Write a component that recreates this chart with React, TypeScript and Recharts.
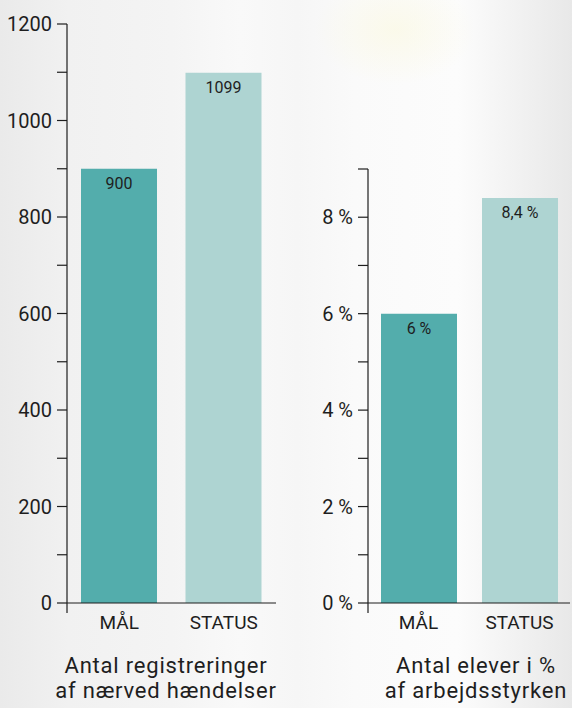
import { Bar, BarChart, Cell, LabelList, XAxis, YAxis, usePlotArea } from 'recharts'

const categories = ['MÅL', 'STATUS']
const registreringer = [900, 1099]
const elevProcent = [6, 8.4]

const leftTicks = [0, 100, 200, 300, 400, 500, 600, 700, 800, 900, 1000, 1100, 1200]
const rightTicks = [0, 1, 2, 3, 4, 5, 6, 7, 8, 9]

const barColors = ['#53adac', '#aed4d2']
const ink = '#1e1e1e'
const font = 'Roboto, "Noto Sans", sans-serif'

const leftData = categories.map((kategori, i) => ({ kategori, value: registreringer[i] }))
const rightData = categories.map((kategori, i) => ({ kategori, value: elevProcent[i] }))

const fmtPct = (v: number) => `${String(v).replace('.', ',')} %`

// small stub of the y axis that hangs below the zero line
function AxisTail() {
  const p = usePlotArea()
  if (!p) return null
  const y = p.y + p.height
  return <line x1={p.x} x2={p.x} y1={y} y2={y + 10} stroke={ink} strokeWidth={1.2} />
}

const titleStyle = {
  position: 'absolute' as const,
  top: 653,
  fontFamily: font,
  fontSize: 22,
  letterSpacing: '0.8px',
  lineHeight: '25px',
  color: ink,
  textAlign: 'center' as const,
}

export default function App() {
  return (
    <div
      style={{
        position: 'absolute',
        left: 0,
        top: 0,
        width: 572,
        height: 708,
        overflow: 'hidden',
        fontFamily: font,
        background:
          'radial-gradient(ellipse 80px 55px at 395px 30px, rgba(250,248,220,0.55), rgba(250,248,220,0) 100%),' +
          'linear-gradient(to right, #eaeaea 0%, #f1f1f1 12%, #f4f4f4 30%, #f9f9f9 42%, #f6f6f6 52%, #fafafa 62%, #fcfcfc 80%, #f0f0f0 92%, #e8e8e8 100%)',
      }}
    >
      <div style={{ position: 'absolute', left: 0, top: 0 }}>
        <BarChart width={290} height={708} data={leftData} margin={{ top: 24, right: 14, bottom: 65, left: 0 }}>
          <XAxis
            dataKey="kategori"
            height={40}
            tickLine={false}
            tickSize={0}
            tickMargin={13}
            axisLine={{ stroke: ink, strokeWidth: 1.2 }}
            tick={{ fontSize: 19, fill: ink, fontFamily: font }}
          />
          <YAxis
            width={67}
            domain={[0, 1200]}
            ticks={leftTicks}
            interval={0}
            tickSize={10}
            tickMargin={5}
            tickLine={{ stroke: ink, strokeWidth: 1.2 }}
            axisLine={{ stroke: ink, strokeWidth: 1.2 }}
            tick={{ fontSize: 20, fill: ink, fontFamily: font }}
            tickFormatter={(v) => (v % 200 === 0 ? String(v) : '')}
          />
          <Bar dataKey="value" barSize={76} isAnimationActive={false}>
            {leftData.map((d, i) => (
              <Cell key={d.kategori} fill={barColors[i]} />
            ))}
            <LabelList
              dataKey="value"
              position="insideTop"
              offset={9}
              style={{ fontSize: 16, fill: ink, fontFamily: font }}
            />
          </Bar>
          <AxisTail />
        </BarChart>
      </div>

      <div style={{ position: 'absolute', left: 290, top: 0 }}>
        <BarChart width={282} height={708} data={rightData} margin={{ top: 169, right: 2, bottom: 65, left: 0 }}>
          <XAxis
            dataKey="kategori"
            height={40}
            tickLine={false}
            tickSize={0}
            tickMargin={13}
            axisLine={{ stroke: ink, strokeWidth: 1.2 }}
            tick={{ fontSize: 19, fill: ink, fontFamily: font }}
          />
          <YAxis
            width={78}
            domain={[0, 9]}
            ticks={rightTicks}
            interval={0}
            tickSize={10}
            tickMargin={5}
            tickLine={{ stroke: ink, strokeWidth: 1.2 }}
            axisLine={{ stroke: ink, strokeWidth: 1.2 }}
            tick={{ fontSize: 20, fill: ink, fontFamily: font }}
            tickFormatter={(v) => (v % 2 === 0 ? `${v} %` : '')}
          />
          <Bar dataKey="value" barSize={76} isAnimationActive={false}>
            {rightData.map((d, i) => (
              <Cell key={d.kategori} fill={barColors[i]} />
            ))}
            <LabelList
              dataKey="value"
              position="insideTop"
              offset={9}
              formatter={(v: any) => fmtPct(Number(v))}
              style={{ fontSize: 16, fill: ink, fontFamily: font }}
            />
          </Bar>
          <AxisTail />
        </BarChart>
      </div>

      <div style={{ ...titleStyle, left: 16, width: 300 }}>
        Antal registreringer
        <br />
        af nærved hændelser
      </div>
      <div style={{ ...titleStyle, left: 356, width: 240 }}>
        Antal elever i %
        <br />
        af arbejdsstyrken
      </div>
    </div>
  )
}
